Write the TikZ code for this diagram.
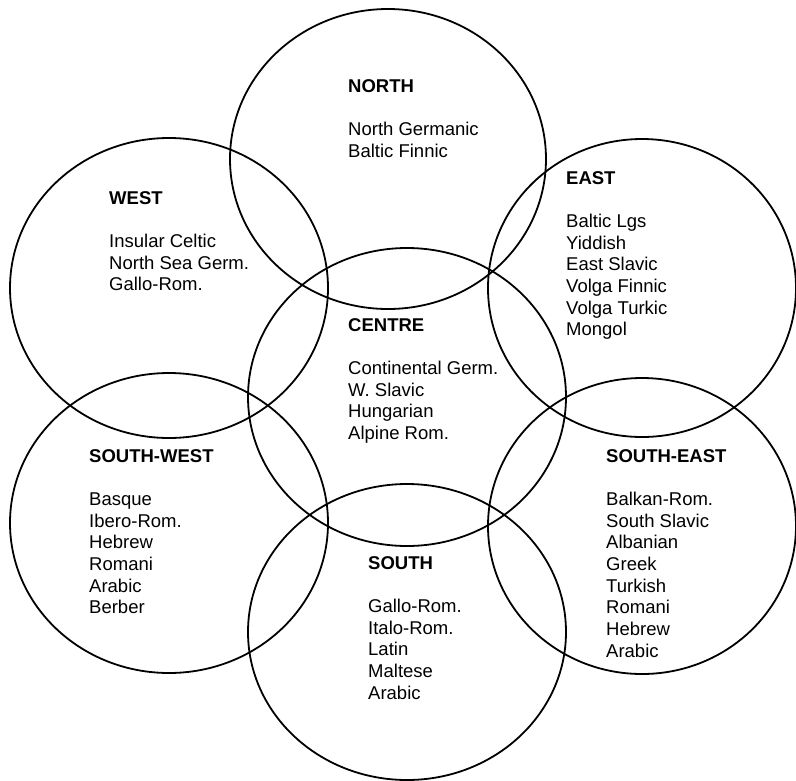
\documentclass[tikz,border=0pt]{standalone}
\usepackage{fontspec}
\setmainfont{Liberation Sans}
\newcommand\rgn[2]{\vtop{\baselineskip=21.7pt\hbox{\bfseries #1}\hbox{}#2}}
\newcommand\lnx[1]{\hbox{#1}}
\begin{document}
\begin{tikzpicture}[x=1pt,y=-1pt,
  zone/.style={draw=black,line width=1.8pt},
  lbl/.style={anchor=base west,inner sep=0pt,font=\fontsize{18.5}{21.7}\selectfont}]
\useasboundingbox (0,0) rectangle (796,780);
\draw[zone] (388,159) ellipse [x radius=158,y radius=150];
\draw[zone] (169,288) ellipse [x radius=159,y radius=150];
\draw[zone] (642,288) ellipse [x radius=154,y radius=149];
\draw[zone] (407,397) ellipse [x radius=159,y radius=149];
\draw[zone] (169,523) ellipse [x radius=159,y radius=150];
\draw[zone] (642,526) ellipse [x radius=154,y radius=148];
\draw[zone] (407,632) ellipse [x radius=159,y radius=148];
\node[lbl] (north) at (348,92) {\rgn{NORTH}{\lnx{North Germanic}\lnx{Baltic Finnic}}};
\node[lbl] (west) at (109,204) {\rgn{WEST}{\lnx{Insular Celtic}\lnx{North Sea Germ.}\lnx{Gallo-Rom.}}};
\node[lbl] (east) at (566,184) {\rgn{EAST}{\lnx{Baltic Lgs}\lnx{Yiddish}\lnx{East Slavic}\lnx{Volga Finnic}\lnx{Volga Turkic}\lnx{Mongol}}};
\node[lbl] (centre) at (348,331) {\rgn{CENTRE}{\lnx{Continental Germ.}\lnx{W. Slavic}\lnx{Hungarian}\lnx{Alpine Rom.}}};
\node[lbl] (southwest) at (89,462) {\rgn{SOUTH-WEST}{\lnx{Basque}\lnx{Ibero-Rom.}\lnx{Hebrew}\lnx{Romani}\lnx{Arabic}\lnx{Berber}}};
\node[lbl] (southeast) at (606,462) {\rgn{SOUTH-EAST}{\lnx{Balkan-Rom.}\lnx{South Slavic}\lnx{Albanian}\lnx{Greek}\lnx{Turkish}\lnx{Romani}\lnx{Hebrew}\lnx{Arabic}}};
\node[lbl] (south) at (368,569) {\rgn{SOUTH}{\lnx{Gallo-Rom.}\lnx{Italo-Rom.}\lnx{Latin}\lnx{Maltese}\lnx{Arabic}}};
\end{tikzpicture}
\end{document}
